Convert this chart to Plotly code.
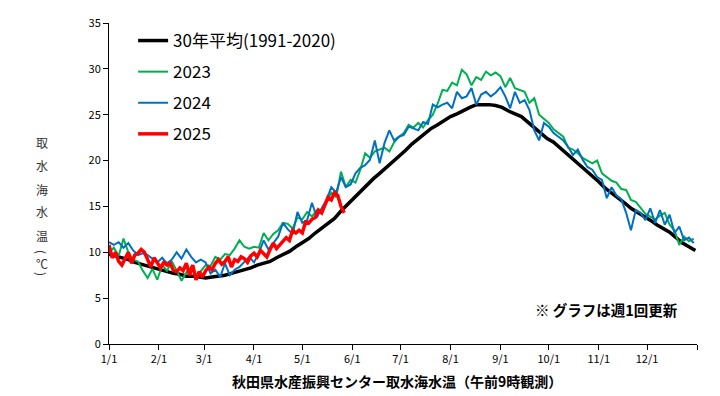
import numpy as np
import pandas as pd
import plotly.graph_objects as go

# ---------------- data ----------------
series_names = ["30年平均(1991-2020)", "2023", "2024", "2025"]
month_labels = ["1/1", "2/1", "3/1", "4/1", "5/1", "6/1", "7/1", "8/1", "9/1", "10/1", "11/1", "12/1"]

# 30-year average, every 4 days from 1/1
avg_values = [9.8, 9.6, 9.4, 9.2, 8.9, 8.7, 8.5, 8.3, 8.1, 7.9, 7.7, 7.6, 7.4, 7.4, 7.3, 7.2,
              7.3, 7.4, 7.5, 7.7, 7.9, 8.1, 8.3, 8.6, 8.8, 9.0, 9.4, 9.7, 10.1, 10.6, 11.0, 11.5,
              12.1, 12.6, 13.2, 13.7, 14.5, 15.2, 15.9, 16.6, 17.4, 18.0, 18.6, 19.2, 19.9, 20.5,
              21.1, 21.8, 22.4, 23.0, 23.5, 23.9, 24.4, 24.8, 25.1, 25.5, 25.8, 26.1, 26.1, 26.1,
              26.0, 25.8, 25.4, 25.1, 24.8, 24.2, 23.6, 23.0, 22.4, 22.0, 21.4, 20.8, 20.1, 19.6,
              19.0, 18.4, 17.7, 17.0, 16.5, 15.9, 15.4, 14.8, 14.4, 13.9, 13.5, 13.0, 12.6, 12.2,
              11.6, 11.0, 10.6, 10.2]

# 2023, every 3 days from 1/1
y2023_values = [10.0, 10.5, 9.6, 11.5, 10.0, 9.2, 9.0, 8.0, 7.2, 8.2, 7.0, 8.6, 8.0, 9.0, 8.0, 6.9,
                7.8, 8.4, 7.3, 8.0, 8.6, 8.5, 9.5, 9.2, 9.8, 9.7, 10.4, 11.3, 10.6, 10.4, 10.6, 10.5,
                12.1, 11.3, 12.0, 12.4, 13.2, 13.1, 12.6, 13.8, 13.6, 14.4, 13.9, 14.6, 14.2, 15.5,
                16.5, 16.0, 18.8, 17.1, 17.9, 17.6, 19.0, 20.8, 20.3, 21.0, 21.2, 21.4, 21.0, 22.0,
                22.6, 23.0, 23.9, 23.6, 24.1, 23.6, 24.4, 25.0, 26.2, 27.7, 27.6, 28.5, 28.2, 29.9,
                29.4, 28.2, 29.1, 28.8, 29.7, 29.3, 29.6, 29.2, 28.0, 29.0, 27.9, 27.7, 27.5, 26.3,
                26.8, 25.0, 24.6, 24.1, 23.4, 23.0, 22.6, 21.4, 21.2, 20.8, 20.3, 20.0, 19.7, 20.0,
                18.6, 18.2, 17.8, 17.6, 16.9, 16.8, 15.7, 15.5, 14.9, 14.2, 13.9, 13.6, 14.0, 14.3,
                13.0, 12.4, 10.8, 11.7, 11.2, 11.5]

# 2024, every 3 days from 1/1
y2024_values = [11.1, 10.8, 11.1, 10.5, 11.0, 10.2, 9.7, 9.9, 9.7, 9.3, 8.9, 9.4, 8.8, 9.2, 10.0, 9.3,
                10.3, 9.5, 8.9, 9.2, 8.9, 7.7, 8.1, 7.3, 8.8, 7.5, 8.1, 8.4, 9.0, 9.5, 8.9, 9.9,
                11.3, 10.3, 11.0, 11.7, 13.2, 12.5, 12.0, 14.4, 13.2, 13.5, 15.4, 13.8, 14.8, 15.7,
                17.1, 16.5, 18.2, 17.1, 17.4, 18.6, 19.2, 19.5, 20.1, 22.2, 19.7, 21.9, 23.3, 22.2,
                22.6, 22.8, 23.7, 23.5, 23.3, 24.2, 24.0, 26.1, 25.8, 26.1, 26.3, 25.7, 27.5, 26.8,
                27.0, 27.9, 26.1, 27.2, 27.5, 27.0, 27.4, 28.0, 27.0, 25.7, 27.5, 26.3, 26.6, 25.5,
                23.3, 22.2, 24.1, 23.7, 23.0, 22.6, 22.2, 21.5, 20.6, 21.2, 20.1, 19.3, 19.0, 18.2,
                17.9, 15.9, 17.1, 16.2, 15.8, 14.3, 12.4, 14.6, 14.3, 13.5, 14.8, 13.2, 14.6, 13.0,
                14.1, 12.1, 12.8, 11.3, 11.6, 11.0]

# 2025, every 2 days from 1/1
y2025_values = [10.8, 9.4, 10.0, 9.0, 8.6, 9.4, 10.0, 8.8, 9.7, 9.9, 10.3, 10.0, 9.2, 8.4, 9.4, 8.8,
                8.3, 8.9, 8.6, 8.8, 8.0, 7.9, 8.3, 8.0, 8.8, 7.5, 8.6, 7.0, 7.9, 7.3, 8.0, 8.4,
                8.1, 8.8, 9.2, 8.7, 9.0, 9.5, 8.4, 9.2, 9.0, 9.5, 9.3, 8.9, 9.6, 9.9, 9.5, 10.2,
                9.9, 9.5, 10.3, 11.0, 10.4, 10.8, 11.3, 11.6, 11.3, 12.4, 12.1, 12.4, 12.1, 13.3,
                13.2, 13.6, 13.8, 14.6, 14.3, 15.2, 16.0, 15.7, 16.5, 16.2, 15.0, 14.3]

series_steps = [4, 3, 3, 2]
series_colors = ["#000000", "#00B050", "#0070C0", "#FF0000"]
series_widths = [3.5, 2, 2, 3.5]

# ---------------- figure ----------------
W, H = 720, 396
L, R, T, B = 109, 23, 23, 52

FONT = "Noto Sans CJK JP"
fig = go.Figure()

all_values = [avg_values, y2023_values, y2024_values, y2025_values]
for i, (name, vals) in enumerate(zip(series_names, all_values)):
    x = pd.date_range("2001-01-01", periods=len(vals), freq=f"{series_steps[i]}D")
    fig.add_trace(go.Scatter(
        x=x, y=vals, mode="lines", name=name,
        legendgroup=f"g{i}",
        line=dict(color=series_colors[i], width=series_widths[i]),
    ))

tickvals = list(pd.date_range("2001-01-01", periods=12, freq="MS")) + [pd.Timestamp("2002-01-01")]
ticktext = month_labels + [""]

fig.update_layout(
    width=W, height=H,
    margin=dict(l=L, r=R, t=T, b=B),
    paper_bgcolor="white", plot_bgcolor="white",
    font=dict(family=FONT, color="#000000", size=11),
    showlegend=True,
    legend=dict(
        x=0.041, y=1.0, xanchor="left", yanchor="top",
        bgcolor="rgba(0,0,0,0)",
        font=dict(size=17, family=FONT, color="#000000"),
        tracegroupgap=6,
        itemwidth=30,
    ),
    xaxis=dict(
        range=["2001-01-01", "2002-01-01"],
        tickmode="array", tickvals=tickvals, ticktext=ticktext,
        ticks="outside", ticklen=5, tickcolor="#000000",
        showline=True, linecolor="#000000", linewidth=1,
        showgrid=False, zeroline=False,
        tickfont=dict(size=11, family=FONT, color="#000000"),
    ),
    yaxis=dict(
        range=[0, 35], dtick=5, tick0=0,
        ticks="outside", ticklen=5, tickcolor="#000000",
        showline=True, linecolor="#000000", linewidth=1,
        showgrid=False, zeroline=False,
        tickfont=dict(size=11, family=FONT, color="#000000"),
    ),
)

plot_w = W - L - R
plot_h = H - T - B


def px_x(px):
    return (px - L) / plot_w


def px_y(py):
    return (H - B - py) / plot_h


# y-axis title written vertically, one character per line (brackets turned sideways)
ytitle_chars = ["取", "水", "海", "水", "温", "(", "℃", ")"]
ytitle_pos = [142, 165, 189, 211, 235, 252, 263, 274]
ytitle_angle = [0, 0, 0, 0, 0, 90, 0, 90]
for ch, py, ang in zip(ytitle_chars, ytitle_pos, ytitle_angle):
    fig.add_annotation(
        x=px_x(42), y=px_y(py), xref="paper", yref="paper",
        text=ch, showarrow=False, xanchor="center", yanchor="middle",
        textangle=ang,
        font=dict(size=12, family=FONT, color="#333333"),
    )

# x-axis title
fig.add_annotation(
    x=px_x(397), y=px_y(381), xref="paper", yref="paper",
    text="<b>秋田県水産振興センター取水海水温（午前9時観測）</b>",
    showarrow=False, xanchor="center", yanchor="middle",
    font=dict(size=14, family=FONT, color="#000000"),
)

# note
fig.add_annotation(
    x=px_x(606), y=px_y(309), xref="paper", yref="paper",
    text="<b>※ グラフは週1回更新</b>",
    showarrow=False, xanchor="center", yanchor="middle",
    font=dict(size=14.5, family=FONT, color="#000000"),
)

fig.write_html("out.html", config={"displayModeBar": False},
               post_script="document.body.style.margin='0';")
